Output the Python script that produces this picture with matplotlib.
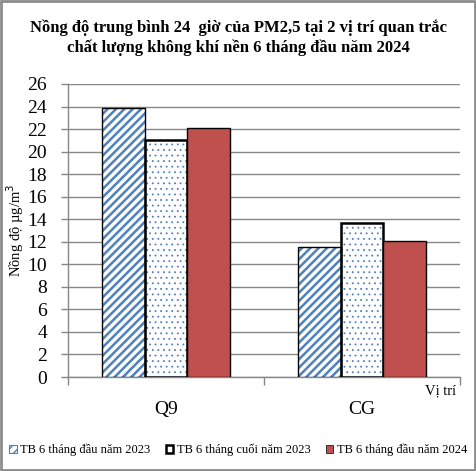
import numpy as np
import matplotlib
matplotlib.use("Agg")
import matplotlib.pyplot as plt
from matplotlib.patches import Patch, Rectangle

# Data
sites = ["Q9", "CG"]
series_names = ["TB 6 tháng đầu năm 2023", "TB 6 tháng cuối năm 2023", "TB 6 tháng đầu năm 2024"]
tb_dau_2023 = [23.9, 11.5]
tb_cuoi_2023 = [21.0, 13.7]
tb_dau_2024 = [22.1, 12.1]
y_ticks = list(range(0, 27, 2))

BLUE = "#4F81BD"
RED = "#C0504D"
GRID = "#878787"

plt.rcParams['font.family'] = ['Liberation Serif', 'DejaVu Serif']

fig = plt.figure(figsize=(4.76, 4.71), dpi=100)
ax = fig.add_axes([68 / 476, 1 - 377 / 471, 392 / 476, 293 / 471])

x = np.arange(len(sites))
w = 0.219

# series 1: white bars with blue diagonal stripes
with plt.rc_context({'hatch.linewidth': 1.8}):
    ax.bar(x - w, tb_dau_2023, w, color="white", edgecolor=BLUE, hatch="////",
           linewidth=0, zorder=3)
ax.bar(x - w, tb_dau_2023, w, fill=False, edgecolor="black", linewidth=1.0, zorder=4)

# series 2: white bars with blue dots, thick outline
with plt.rc_context({'hatch.linewidth': 0.6}):
    ax.bar(x, tb_cuoi_2023, w, color="white", edgecolor=BLUE, hatch="...",
           linewidth=0, zorder=3)
ax.bar(x, tb_cuoi_2023, w, fill=False, edgecolor="black", linewidth=1.8, zorder=4)

# series 3: solid red
ax.bar(x + w, tb_dau_2024, w, color=RED, edgecolor="black", linewidth=1.0, zorder=4)

ax.set_xlim(-0.5, 1.5)
ax.set_ylim(0, 26)
ax.set_yticks(y_ticks)
ax.set_yticklabels([str(v) for v in y_ticks], fontsize=14)
ax.yaxis.grid(True, color=GRID, linewidth=1.0, zorder=0)
ax.set_axisbelow(True)

ax.set_xticks([-0.5, 0.5, 1.5])
ax.set_xticklabels([])
ax.set_xticks(x, minor=True)
ax.set_xticklabels(sites, minor=True, fontsize=14)
ax.tick_params(axis='x', which='minor', length=0, pad=17)
ax.tick_params(axis='x', which='major', length=6, color=GRID, width=1)
ax.tick_params(axis='y', length=5, color=GRID, width=1, pad=10)

for side in ["top", "right"]:
    ax.spines[side].set_visible(False)
for side in ["left", "bottom"]:
    ax.spines[side].set_color(GRID)
    ax.spines[side].set_linewidth(1.0)

ax.set_ylabel("Nồng độ µg/m$^3$", fontsize=10.5)
ax.yaxis.set_label_coords(-0.108, 0.5)
fig.text(441 / 476, 1 - 391 / 471, "Vị trí", fontsize=10.5, ha="center", va="center")

fig.text(0.5, 1 - 38 / 471,
         "Nồng độ trung bình 24  giờ của PM2,5 tại 2 vị trí quan trắc\n"
         "chất lượng không khí nền 6 tháng đầu năm 2024",
         fontsize=12, fontweight="bold", ha="center", va="center", linespacing=1.3)

handles = [
    Patch(facecolor="white", edgecolor=BLUE, hatch="////", linewidth=0.8),
    Patch(facecolor="white", edgecolor="black", linewidth=1.8),
    Patch(facecolor=RED, edgecolor="black", linewidth=0.5),
]
fig.legend(handles, series_names, loc="center", bbox_to_anchor=(0.5, 1 - 450 / 471),
           ncol=3, frameon=False, fontsize=9, handlelength=0.6, handleheight=0.6,
           handletextpad=0.3, columnspacing=1.2, borderaxespad=0)

fig.patches.append(Rectangle((0.002, 0.002), 0.996, 0.996, transform=fig.transFigure,
                             fill=False, edgecolor="#8c8c8c", linewidth=2.0))

fig.savefig("out.png", dpi=100)
